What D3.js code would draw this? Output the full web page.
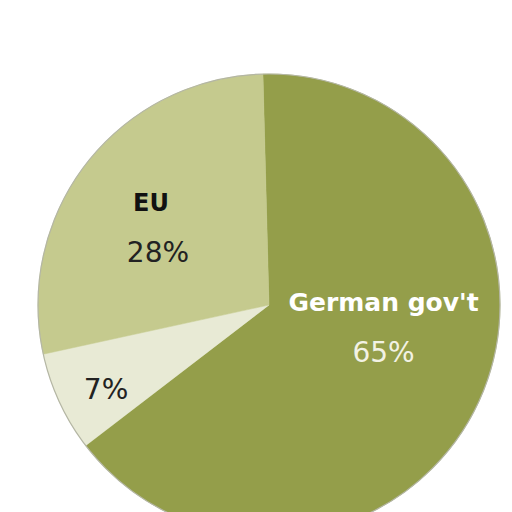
<!DOCTYPE html>
<html>
<head>
<meta charset="utf-8">
<script src="https://cdn.jsdelivr.net/npm/d3@7"></script>
<style>
  html, body { margin: 0; padding: 0; background: #fff; }
  svg { display: block; }
</style>
</head>
<body>
<script>
(function(){
'use strict';

// chart data
var names = ["German gov't", '', 'EU'];
var shares = [65, 7, 28];
var valueLabels = ['65%', '7%', '28%'];
var colors = ['#949e4a', '#e8ead5', '#c5ca8e'];

var width = 512;
var height = 512;
var cx = 269;
var cy = 305;
var radius = 231;
var startDeg = -1.5;

// label placement: radius from centre, angle nudge from slice middle (deg)
var labelLayout = [
  {r: 128, da: 1, nameColor: '#ffffff', valueColor: '#f2f2e4'},
  {r: 188, da: -5, nameColor: '#222', valueColor: '#222'},
  {r: 119, da: -17, nameColor: '#111', valueColor: '#222', nameDx: -7}
];

var svg = d3.select('body').append('svg')
  .attr('width', width)
  .attr('height', height);

var g = svg.append('g')
  .attr('transform', 'translate(' + cx + ',' + cy + ')');

var rad = Math.PI / 180;

var pie = d3.pie()
  .sort(null)
  .value(function(d){ return d; })
  .startAngle(startDeg * rad)
  .endAngle((startDeg + 360) * rad);

var arcs = pie(shares);

var arc = d3.arc()
  .innerRadius(0)
  .outerRadius(radius);

g.selectAll('path.slice')
  .data(arcs)
  .enter()
  .append('path')
  .attr('class', 'slice')
  .attr('d', arc)
  .attr('fill', function(d, i){ return colors[i]; })
  .attr('stroke', function(d, i){ return colors[i]; })
  .attr('stroke-width', 0.5);

g.append('circle')
  .attr('r', radius)
  .attr('fill', 'none')
  .attr('stroke', '#b4b6a4')
  .attr('stroke-width', 1.2);

function labelPoint(d, i){
  var a = (d.startAngle + d.endAngle) / 2 + labelLayout[i].da * rad;
  var r = labelLayout[i].r;
  return [r * Math.sin(a), -r * Math.cos(a)];
}

var labels = g.selectAll('g.label')
  .data(arcs)
  .enter()
  .append('g')
  .attr('class', 'label')
  .attr('transform', function(d, i){
    var p = labelPoint(d, i);
    return 'translate(' + p[0] + ',' + p[1] + ')';
  });

labels.append('text')
  .attr('text-anchor', 'middle')
  .attr('x', function(d, i){ return labelLayout[i].nameDx || 0; })
  .attr('y', -51)
  .attr('font-family', 'DejaVu Sans, sans-serif')
  .attr('font-weight', 'bold')
  .attr('font-size', function(d, i){ return i === 2 ? 24 : 25; })
  .attr('fill', function(d, i){ return labelLayout[i].nameColor; })
  .text(function(d, i){ return names[i]; });

labels.append('text')
  .attr('text-anchor', 'middle')
  .attr('font-family', 'DejaVu Sans, sans-serif')
  .attr('font-size', 28)
  .attr('fill', function(d, i){ return labelLayout[i].valueColor; })
  .text(function(d, i){ return valueLabels[i]; });

})();
</script>
</body>
</html>
